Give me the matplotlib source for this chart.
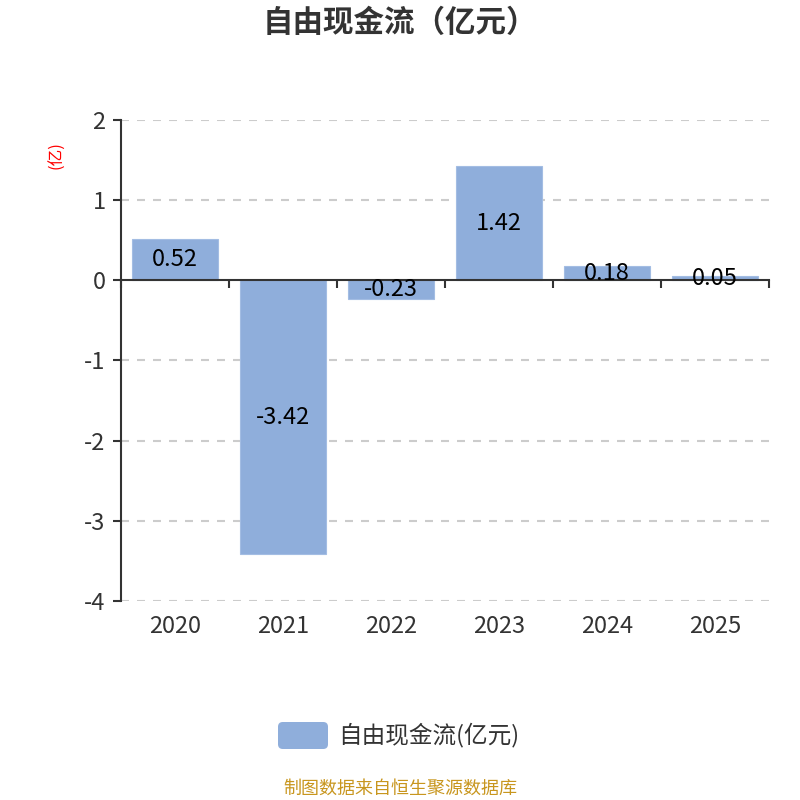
import matplotlib
matplotlib.use("Agg")
import matplotlib.pyplot as plt
from matplotlib.patches import FancyBboxPatch
import matplotlib.transforms as mtransforms

plt.rcParams['font.family'] = ['Noto Sans CJK SC', 'DejaVu Sans']

years = ["2020", "2021", "2022", "2023", "2024", "2025"]
values = [0.52, -3.42, -0.23, 1.42, 0.18, 0.05]
labels = ["0.52", "-3.42", "-0.23", "1.42", "0.18", "0.05"]
yticks = [2, 1, 0, -1, -2, -3, -4]

title = "自由现金流（亿元）"
series_name = "自由现金流(亿元)"
unit = "(亿)"
footer = "制图数据来自恒生聚源数据库"

bar_color = "#8faedb"
text_color = "#333333"

fig = plt.figure(figsize=(8, 8), dpi=100)
ax = fig.add_axes([0.151, 0.249, 0.81, 0.601])

x = list(range(len(years)))
ax.bar(x, values, width=0.8, color=bar_color, edgecolor='#a3bde3',
       linewidth=0.8, zorder=2)
for xi, v, lab in zip(x, values, labels):
    ax.text(xi, v / 2, lab, ha='center', va='center', fontsize=17,
            color='black', zorder=3)

ax.set_xlim(-0.5, len(years) - 0.5)
ax.set_ylim(-4, 2)
ax.set_yticks(yticks)
ax.set_yticklabels([str(t) for t in yticks], fontsize=17, color=text_color)
for t in yticks:
    if t != 0:
        ax.axhline(t, color='#cccccc', linestyle=(0, (3.84, 3.84)),
                   linewidth=1.5, zorder=1)

ax.spines['top'].set_visible(False)
ax.spines['right'].set_visible(False)
ax.spines['left'].set_color(text_color)
ax.spines['left'].set_linewidth(1.5)
ax.spines['bottom'].set_position(('data', 0))
ax.spines['bottom'].set_color(text_color)
ax.spines['bottom'].set_linewidth(1.5)
ax.tick_params(axis='y', length=6, width=1.5, color=text_color, pad=5)

bounds = [i - 0.5 for i in range(len(years) + 1)]
ax.set_xticks(bounds)
ax.set_xticklabels([''] * len(bounds))
ax.tick_params(axis='x', length=6, width=1.5, color=text_color)

trans = mtransforms.blended_transform_factory(ax.transData, ax.transAxes)
for xi, yr in zip(x, years):
    ax.text(xi, -0.054, yr, transform=trans, ha='center', va='center',
            fontsize=17, color=text_color)

fig.text(0.5, 0.971, title, ha='center', va='center', fontsize=22,
         fontweight='bold', color=text_color)
fig.text(0.071, 0.806, unit, ha='center', va='center', fontsize=12,
         color='red', rotation=90)

# legend
leg = FancyBboxPatch((278 / 800, 1 - 749 / 800), 50 / 800, 27 / 800,
                     boxstyle="round,pad=0,rounding_size=0.006",
                     transform=fig.transFigure, facecolor=bar_color,
                     edgecolor='none')
fig.patches.append(leg)
fig.text(338 / 800, 1 - 735 / 800, series_name, ha='left', va='center',
         fontsize=17, color=text_color)

fig.text(0.5, 1 - 789 / 800, footer, ha='center', va='center', fontsize=13,
         color='#c8961e')

fig.savefig("out.png", dpi=100)
